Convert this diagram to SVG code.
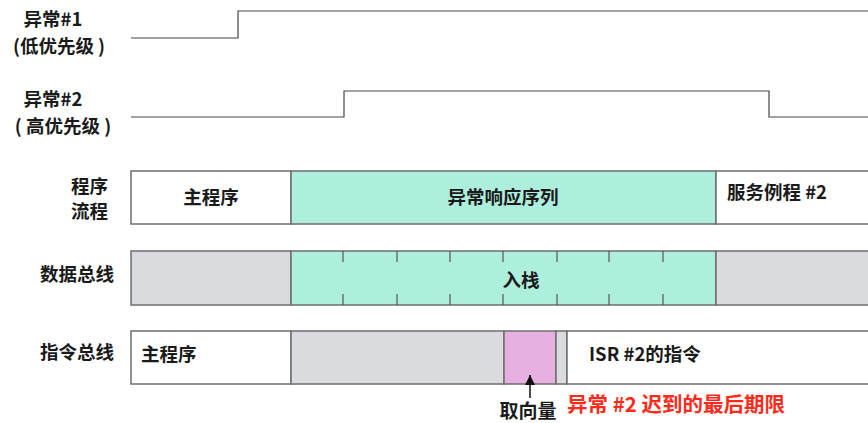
<svg xmlns="http://www.w3.org/2000/svg" width="868" height="423" viewBox="0 0 868 423">
<defs>
<style>
.t{font-family:"Noto Sans CJK SC","Noto Sans",sans-serif;font-weight:bold;font-size:18.5px;fill:#1a1a1a}
.box{stroke:#6e6e6e;stroke-width:1.5}
.w{fill:#ffffff}.g{fill:#d9dbde}.c{fill:#aeeedc}.p{fill:#e8b0e0}
.wave{fill:none;stroke:#444;stroke-width:1.2}
.tick{stroke:#555;stroke-width:1.2}
</style>
<marker id="ah" viewBox="0 0 10 10" refX="10" refY="5" markerWidth="10" markerHeight="10" markerUnits="userSpaceOnUse" orient="auto"><path d="M0,0 L10,5 L0,10 Z" fill="#111"/></marker>
</defs>
<rect width="868" height="423" fill="#fff"/>
<g id="labels">
<text class="t" x="53" y="26" text-anchor="middle">异常#1</text>
<text class="t" x="59" y="53" text-anchor="middle">(低优先级 )</text>
<text class="t" x="53" y="106" text-anchor="middle">异常#2</text>
<text class="t" x="63" y="133" text-anchor="middle">( 高优先级 )</text>
<text class="t" x="108" y="193" text-anchor="end">程序</text>
<text class="t" x="108" y="218" text-anchor="end">流程</text>
<text class="t" x="114" y="281" text-anchor="end">数据总线</text>
<text class="t" x="114" y="359" text-anchor="end">指令总线</text>
</g>
<g id="row1">
<rect class="box w" x="131" y="171" width="160" height="53"/>
<rect class="box c" x="291" y="171" width="425" height="53"/>
<rect class="box w" x="716" y="171" width="160" height="53"/>
<text class="t" x="211" y="204" text-anchor="middle">主程序</text>
<text class="t" x="503" y="204" text-anchor="middle">异常响应序列</text>
<text class="t" x="727" y="199">服务例程 #2</text>
</g>
<g id="row2">
<rect class="box g" x="131" y="251" width="160" height="54"/>
<rect class="box c" x="291" y="251" width="425" height="54"/>
<rect class="box g" x="716" y="251" width="160" height="54"/>
<g class="tick">
<line x1="343" y1="251" x2="343" y2="262"/><line x1="343" y1="294" x2="343" y2="305"/>
<line x1="397" y1="251" x2="397" y2="262"/><line x1="397" y1="294" x2="397" y2="305"/>
<line x1="450" y1="251" x2="450" y2="262"/><line x1="450" y1="294" x2="450" y2="305"/>
<line x1="503" y1="251" x2="503" y2="262"/><line x1="503" y1="294" x2="503" y2="305"/>
<line x1="557" y1="251" x2="557" y2="262"/><line x1="557" y1="294" x2="557" y2="305"/>
<line x1="609" y1="251" x2="609" y2="262"/><line x1="609" y1="294" x2="609" y2="305"/>
<line x1="663" y1="251" x2="663" y2="262"/><line x1="663" y1="294" x2="663" y2="305"/>
</g>
<text class="t" x="521" y="287" text-anchor="middle">入栈</text>
</g>
<g id="row3">
<rect class="box w" x="131" y="331" width="160" height="53"/>
<rect class="box g" x="291" y="331" width="213" height="53"/>
<rect class="box p" x="504" y="331" width="52" height="53"/>
<rect class="box g" x="556" y="331" width="11" height="53"/>
<rect class="box w" x="567" y="331" width="310" height="53"/>
<text class="t" x="141" y="361">主程序</text>
<text class="t" x="589" y="361">ISR #2的指令</text>
</g>
<g id="connectors">
<polyline class="wave" points="131,38 238,38 238,11 868,11"/>
<polyline class="wave" points="131,117 344,117 344,91 769,91 769,117 868,117"/>
<line x1="530" y1="398" x2="530" y2="375" stroke="#111" stroke-width="1.5" marker-end="url(#ah)"/>
</g>
<g id="notes">
<text class="t" x="528" y="418" text-anchor="middle" style="font-size:19px">取向量</text>
<text class="t" x="567" y="412" style="fill:#ff2a1a;font-size:20.5px">异常 #2 迟到的最后期限</text>
</g>
</svg>
